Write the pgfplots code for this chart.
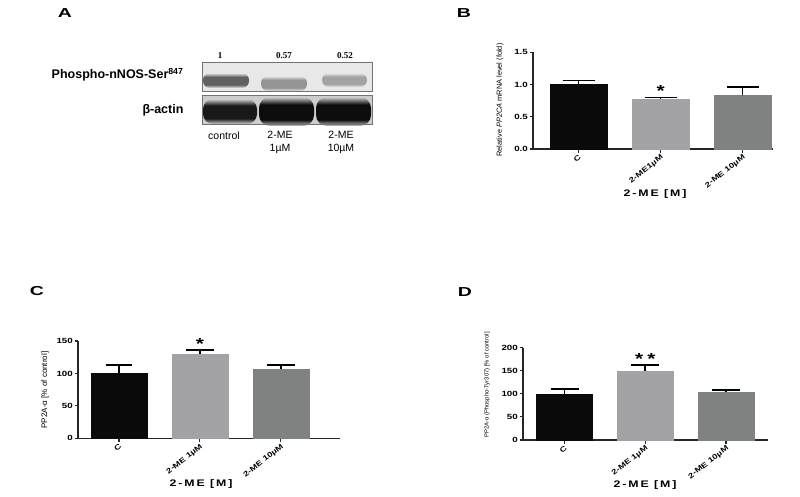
\documentclass[border=0pt]{standalone}
\usepackage{fontspec}
\setmainfont{Liberation Sans}
\newfontfamily\wfont[FakeStretch=1.3]{Liberation Sans}
\newfontfamily\xlabfont[FakeStretch=1.3,LetterSpace=20]{Liberation Sans}
\newfontfamily\letterfont[FakeStretch=1.5]{Liberation Sans}
\newfontfamily\serifnum{Liberation Serif}
\usepackage{pgfplots}
\pgfplotsset{compat=1.18}

\definecolor{barblack}{HTML}{0A0A0A}
\definecolor{barlight}{HTML}{A3A3A6}
\definecolor{barmid}{HTML}{808181}
\definecolor{blotup}{HTML}{E8E8E8}
\definecolor{blotlow}{HTML}{CDCDCD}
\colorlet{bandbg}{blotup}
\colorlet{bandcore}{black}

% soft band: background at the edges, flat core in the middle
\pgfdeclareverticalshading[bandbg,bandcore]{band}{100bp}{%
  color(0bp)=(bandbg); color(25bp)=(bandbg); color(36bp)=(bandcore);
  color(62bp)=(bandcore); color(75bp)=(bandbg); color(100bp)=(bandbg)}

\pgfplotsset{
  gp/.style={
    scale only axis,
    anchor=south west,
    axis x line=bottom, axis y line=left,
    axis line style={line width=1.1pt, black!85, -},
    tick align=outside, major tick length=3.5pt,
    tick style={line width=1.1pt, black!85},
    xtick={0,1,2},
    ymin=0,
    /pgf/number format/assume math mode=true,
    yticklabel style={font=\wfont\bfseries\fontsize{7.5}{8}\selectfont, inner sep=1.5pt},
    xticklabel style={rotate=38, anchor=north east, inner sep=1pt,
      font=\wfont\bfseries\fontsize{7.2}{8}\selectfont},
    clip=false,
  },
  gpbar/.style 2 args={ybar, bar width=0.69, bar shift=0pt, fill=#1, draw=#1,
    error bars/.cd, y dir=plus, y explicit,
    error bar style={line width=1.6pt, black},
    error mark options={rotate=90, line width=1.6pt, black, mark size=#2}},
}

% blot band: x1 y1 x2 y2 background core corner
\newcommand\band[7]{%
  \colorlet{bandbg}{#5}\colorlet{bandcore}{#6}%
  \shade[shading=band, rounded corners=#7] (#1,#2) rectangle (#3,#4);}

\begin{document}
\begin{tikzpicture}
\useasboundingbox (0,0) rectangle (800pt,-496pt);

% ---------- panel A: blot ----------
\begin{scope}[x=1pt,y=-1pt]
  \fill[blotup] (202,62) rectangle (372,91);
  \band{203}{73}{249}{88}{blotup}{black!62}{7pt}
  \band{261}{76}{307}{91}{blotup}{black!42}{7pt}
  \band{322}{73}{367}{87}{blotup}{black!36}{7pt}
  \draw[black!55, line width=0.9pt] (202,62) rectangle (372,91);

  \fill[blotlow] (202,95) rectangle (372,124);
  \band{203}{99}{257}{124}{blotlow}{black!90}{10pt}
  \band{259}{97}{314}{126}{blotlow}{black!95}{11pt}
  \band{316}{97}{371}{126}{blotlow}{black!95}{11pt}
  \draw[black!55, line width=0.9pt] (202,95) rectangle (372,124);

  \node[font=\serifnum\bfseries\fontsize{9}{9}\selectfont] at (220,56) {1};
  \node[font=\serifnum\bfseries\fontsize{9}{9}\selectfont] at (284,56) {0.57};
  \node[font=\serifnum\bfseries\fontsize{9}{9}\selectfont] at (345,56) {0.52};

  \node[anchor=east, font=\bfseries\fontsize{12.5}{13}\selectfont] at (187,75)
    {Phospho-nNOS-Ser\textsuperscript{847}};
  \node[anchor=east, font=\bfseries\fontsize{12.5}{13}\selectfont] at (187,110) {β-actin};

  \node[anchor=north, align=center, font=\fontsize{10.5}{13}\selectfont] at (224,128) {control};
  \node[anchor=north, align=center, font=\fontsize{10.5}{13}\selectfont] at (280,128) {2-ME\\1µM};
  \node[anchor=north, align=center, font=\fontsize{10.5}{13}\selectfont] at (341,128) {2-ME\\10µM};

  \node[font=\letterfont\bfseries\fontsize{13}{13}\selectfont] at (65,13) {A};
  \node[font=\letterfont\bfseries\fontsize{13}{13}\selectfont] at (464,13) {B};
  \node[font=\letterfont\bfseries\fontsize{13}{13}\selectfont] at (37,291) {C};
  \node[font=\letterfont\bfseries\fontsize{13}{13}\selectfont] at (465,292) {D};

  % axis titles
  \node[rotate=90, font=\fontsize{7.4}{8}\selectfont] at (500,100)
    {Relative \textit{PP2CA} mRNA level (fold)};
  \node[rotate=90, font=\fontsize{8}{9}\selectfont] at (45,390)
    {PP2A-α [\% of control]};
  \node[rotate=90, font=\fontsize{5.9}{7}\selectfont] at (487,385)
    {PP2A-α (Phospho-Tyr307) [\% of control]};
  \node[font=\xlabfont\bfseries\fontsize{9.5}{10}\selectfont] at (655,194) {2-ME [M]};
  \node[font=\xlabfont\bfseries\fontsize{9.5}{10}\selectfont] at (201,484) {2-ME [M]};
  \node[font=\xlabfont\bfseries\fontsize{9.5}{10}\selectfont] at (645,485) {2-ME [M]};
\end{scope}

% ---------- panel B ----------
\begin{axis}[gp, at={(533pt,-149pt)}, width=240pt, height=96.7pt,
  xmin=-0.555, xmax=2.37, ymax=1.5, ytick={0,0.5,1,1.5},
  yticklabel style={/pgf/number format/fixed, /pgf/number format/fixed zerofill,
    /pgf/number format/precision=1},
  xticklabels={C, 2-ME1µM, 2-ME 10µM}]
  \addplot[gpbar={barblack}{16pt}] coordinates {(0,1.00) +- (0,0.06)};
  \addplot[gpbar={barlight}{16pt}] coordinates {(1,0.78) +- (0,0.02)};
  \addplot[gpbar={barmid}{16pt}]   coordinates {(2,0.83) +- (0,0.13)};
  \node[anchor=base, yshift=-9pt, font=\wfont\bfseries\fontsize{16}{16}\selectfont]
    at (axis cs:1,0.96) {*};
\end{axis}

% ---------- panel C ----------
\begin{axis}[gp, at={(78pt,-438.3pt)}, width=262pt, height=97.3pt,
  xmin=-0.506, xmax=2.73, ymax=150, ytick={0,50,100,150},
  xticklabels={C, 2-ME 1µM, 2-ME 10µM}]
  \addplot[gpbar={barblack}{13pt}] coordinates {(0,100) +- (0,13)};
  \addplot[gpbar={barlight}{14pt}] coordinates {(1,130) +- (0,6)};
  \addplot[gpbar={barmid}{14pt}]   coordinates {(2,107) +- (0,6)};
  \node[anchor=base, yshift=-9pt, font=\wfont\bfseries\fontsize{16}{16}\selectfont]
    at (axis cs:1,151.5) {*};
\end{axis}

% ---------- panel D ----------
\begin{axis}[gp, at={(523pt,-440pt)}, width=245pt, height=92.3pt,
  xmin=-0.514, xmax=2.52, ymax=200, ytick={0,50,100,150,200},
  xticklabels={C, 2-ME 1µM, 2-ME 10µM}]
  \addplot[gpbar={barblack}{14pt}] coordinates {(0,100) +- (0,10)};
  \addplot[gpbar={barlight}{14pt}] coordinates {(1,150) +- (0,13)};
  \addplot[gpbar={barmid}{14pt}]   coordinates {(2,103) +- (0,6)};
  \node[anchor=base, yshift=-9pt, font=\wfont\bfseries\fontsize{16}{16}\selectfont]
    at (axis cs:1,184) {*\hspace{4pt}*};
\end{axis}
\end{tikzpicture}
\end{document}
